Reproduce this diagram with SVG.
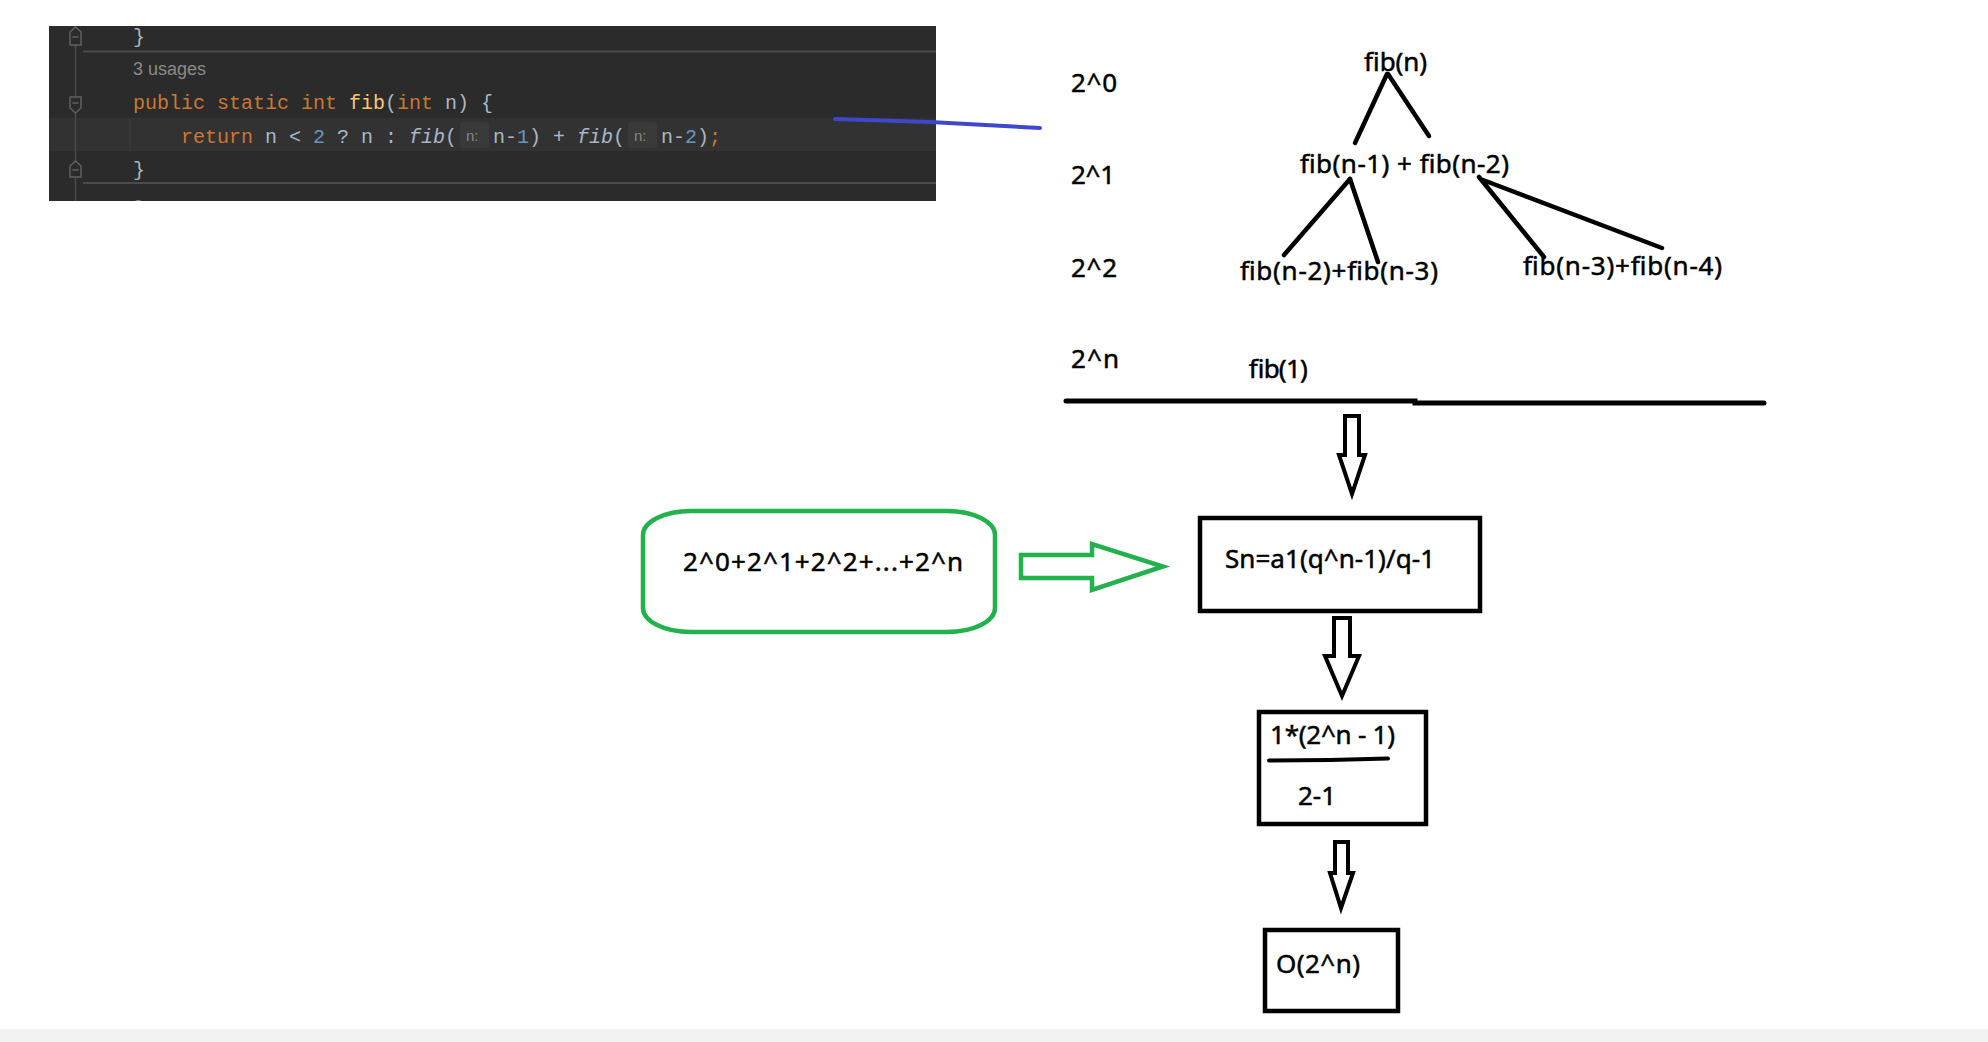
<svg xmlns="http://www.w3.org/2000/svg" width="1988" height="1042" viewBox="0 0 1988 1042">
<style>
.code{font-family:"Liberation Mono","DejaVu Sans Mono",monospace;font-size:20px}
.kw{fill:#cc7832}.pl{fill:#a9b7c6}.num{fill:#6897bb}.fn{fill:#ffc66d}.it{font-style:italic}
.hint{font-family:"Liberation Sans",sans-serif;font-size:15px;fill:#858585}
.usage{font-family:"Liberation Sans",sans-serif;font-size:18px;fill:#8a8a8a}
.lbl{font-family:"Noto Sans","Open Sans",sans-serif;font-size:26px;fill:#000;stroke:#000;stroke-width:0.5}
.ln{stroke:#000;stroke-width:4.5;stroke-linecap:round;fill:none}
.box{fill:#fff;stroke:#000;stroke-width:4.5}
.barrow{fill:#fff;stroke:#000;stroke-width:4;stroke-linejoin:miter}
.fold{fill:#2b2b2b;stroke:#5f6162;stroke-width:1.5}
</style>
<defs>
<clipPath id="panelClip"><rect x="49" y="26" width="887" height="175"/></clipPath>
</defs>
<rect x="0" y="0" width="1988" height="1042" fill="#fff"/>
<rect x="0" y="1029" width="1988" height="13" fill="#f3f2f3"/>

<g id="code-panel" clip-path="url(#panelClip)">
<rect x="49" y="26" width="887" height="175" fill="#2b2b2b"/>
<rect x="49" y="118" width="887" height="33" fill="#323232"/>
<line x1="75.5" y1="26" x2="75.5" y2="201" stroke="#4a4a4a" stroke-width="1.5"/>
<line x1="83" y1="51.5" x2="936" y2="51.5" stroke="#4b4b4b" stroke-width="2"/>
<line x1="83" y1="183" x2="936" y2="183" stroke="#4b4b4b" stroke-width="2"/>
<line x1="130" y1="118" x2="130" y2="151" stroke="#3c3c3c" stroke-width="1.5"/>
<path class="fold" d="M70,45 V32 L75.5,27 L81,32 V45 Z"/>
<line x1="72.5" y1="37" x2="78.5" y2="37" stroke="#5f6162" stroke-width="1.5"/>
<path class="fold" d="M70,97 V108 L75.5,113 L81,108 V97 Z"/>
<line x1="72.5" y1="103" x2="78.5" y2="103" stroke="#5f6162" stroke-width="1.5"/>
<path class="fold" d="M70,177 V166 L75.5,161 L81,166 V177 Z"/>
<line x1="72.5" y1="170" x2="78.5" y2="170" stroke="#5f6162" stroke-width="1.5"/>
<text class="code pl" x="133" y="43">}</text>
<text class="usage" x="133" y="75">3 usages</text>
<text class="code" x="133" y="109" xml:space="preserve"><tspan class="kw">public static int </tspan><tspan class="fn">fib</tspan><tspan class="pl">(</tspan><tspan class="kw">int</tspan><tspan class="pl"> n) {</tspan></text>
<text class="code" x="181" y="143" xml:space="preserve"><tspan class="kw">return</tspan><tspan class="pl"> n &lt; </tspan><tspan class="num">2</tspan><tspan class="pl"> ? n : </tspan><tspan class="pl it">fib</tspan><tspan class="pl">(</tspan></text>
<rect x="460" y="122" width="29" height="26" rx="4" fill="#3a3a3a"/>
<text class="hint" x="466" y="141">n:</text>
<text class="code" x="493" y="143" xml:space="preserve"><tspan class="pl">n-</tspan><tspan class="num">1</tspan><tspan class="pl">) + </tspan><tspan class="pl it">fib</tspan><tspan class="pl">(</tspan></text>
<rect x="628" y="122" width="29" height="26" rx="4" fill="#3a3a3a"/>
<text class="hint" x="634" y="141">n:</text>
<text class="code" x="661" y="143" xml:space="preserve"><tspan class="pl">n-</tspan><tspan class="num">2</tspan><tspan class="pl">)</tspan><tspan class="kw">;</tspan></text>
<text class="code pl" x="133" y="176">}</text>
<text class="usage" x="133" y="213">2 usages</text>
</g>

<g id="connectors">
<polyline points="835,119 930,122 1040,128" fill="none" stroke="#3f48cc" stroke-width="4" stroke-linecap="round"/>
<line class="ln" x1="1387" y1="74" x2="1355" y2="143"/>
<line class="ln" x1="1388" y1="74" x2="1429" y2="136"/>
<line class="ln" x1="1350" y1="179" x2="1284" y2="255"/>
<line class="ln" x1="1350" y1="179" x2="1378" y2="262"/>
<line class="ln" x1="1479" y1="177" x2="1544" y2="257"/>
<line class="ln" x1="1483" y1="180" x2="1662" y2="248"/>
<polyline points="1066,401 1415,401 1415,403 1764,403" fill="none" stroke="#000" stroke-width="5" stroke-linecap="round"/>
<path class="barrow" d="M1345,416 H1359 V455 H1365 L1352,494 L1339,455 H1345 Z"/>
<path class="barrow" d="M1334,618 H1350 V656 H1359 L1342,696 L1325,656 H1334 Z"/>
<path class="barrow" d="M1335,842 H1348 V873 H1353 L1341,908 L1330,873 H1335 Z"/>
<path d="M1021,555 H1092 V544 L1163,566.5 L1092,590 V578 H1021 Z" fill="#fff" stroke="#22b14c" stroke-width="4.5"/>
</g>

<g id="level-labels">
<text class="lbl" x="1071" y="92" textLength="46">2^0</text>
<text class="lbl" x="1071" y="184" textLength="44">2^1</text>
<text class="lbl" x="1071" y="277" textLength="46">2^2</text>
<text class="lbl" x="1071" y="368" textLength="48">2^n</text>
</g>
<g id="node-fib-n"><text class="lbl" x="1364" y="71" textLength="63">fib(n)</text></g>
<g id="node-level1"><text class="lbl" x="1300" y="173" textLength="209">fib(n-1) + fib(n-2)</text></g>
<g id="node-level2-left"><text class="lbl" x="1240" y="280" textLength="198">fib(n-2)+fib(n-3)</text></g>
<g id="node-level2-right"><text class="lbl" x="1523" y="275" textLength="199">fib(n-3)+fib(n-4)</text></g>
<g id="node-fib-1"><text class="lbl" x="1248" y="378" textLength="59">fib(1)</text></g>

<g id="node-series">
<rect x="643" y="511" width="352" height="121" rx="48" ry="24" fill="#fff" stroke="#22b14c" stroke-width="4.5"/>
<text class="lbl" x="683" y="571" textLength="280">2^0+2^1+2^2+...+2^n</text>
</g>
<g id="node-sn">
<rect class="box" x="1200" y="518" width="280" height="93"/>
<text class="lbl" x="1225" y="568" textLength="210">Sn=a1(q^n-1)/q-1</text>
</g>
<g id="node-fraction">
<rect class="box" x="1259" y="712" width="167" height="112"/>
<text class="lbl" x="1270" y="744" textLength="125">1*(2^n - 1)</text>
<polyline points="1269,760.5 1330,760 1388,758.5" fill="none" stroke="#000" stroke-width="4" stroke-linecap="round"/>
<text class="lbl" x="1298" y="805">2-1</text>
</g>
<g id="node-result">
<rect class="box" x="1265" y="930" width="133" height="81"/>
<text class="lbl" x="1276" y="973" textLength="84">O(2^n)</text>
</g>
</svg>
